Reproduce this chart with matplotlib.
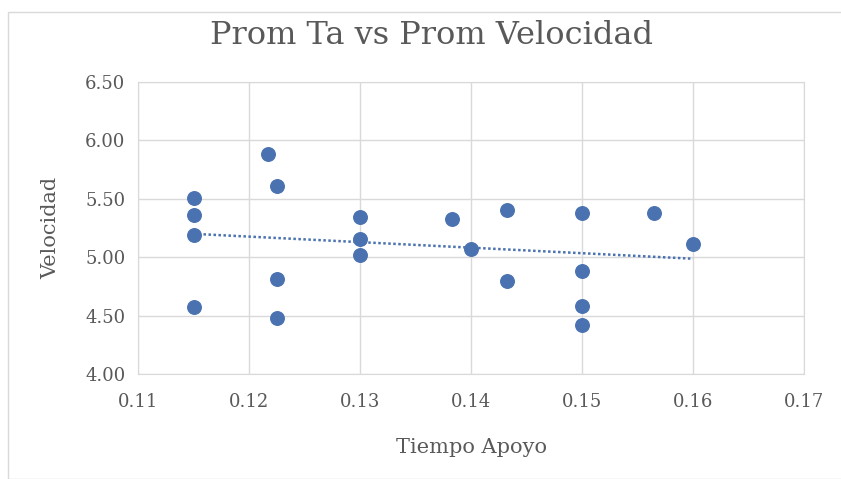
import numpy as np
import matplotlib
matplotlib.use('Agg')
import matplotlib.pyplot as plt
from matplotlib.patches import Rectangle

# Tiempo de apoyo (s) y velocidad promedio
tiempo_apoyo = [0.115, 0.115, 0.115, 0.115,
                0.1217, 0.1225, 0.1225, 0.1225,
                0.13, 0.13, 0.13,
                0.1383, 0.14, 0.1432, 0.1432,
                0.15, 0.15, 0.15, 0.15,
                0.1565, 0.16]
velocidad = [5.51, 5.36, 5.19, 4.57,
             5.88, 5.61, 4.81, 4.48,
             5.34, 5.16, 5.02,
             5.33, 5.07, 5.40, 4.80,
             5.38, 4.88, 4.58, 4.42,
             5.38, 5.11]

x_ticks = [0.11, 0.12, 0.13, 0.14, 0.15, 0.16, 0.17]
y_ticks = [4.00, 4.50, 5.00, 5.50, 6.00, 6.50]

plt.rcParams['font.family'] = ['DejaVu Serif']
txt = '#595959'

fig = plt.figure(figsize=(8.41, 4.79), dpi=100)
fig.patches.append(Rectangle((8 / 841, 0.0), 1.0, 1 - 12 / 479, transform=fig.transFigure,
                             fill=False, edgecolor='#d9d9d9', linewidth=1))
ax = fig.add_axes([138 / 841, 1 - 374 / 479, (804 - 138) / 841, (374 - 82) / 479])

ax.scatter(tiempo_apoyo, velocidad, s=95, color='#4a72b0', zorder=3)

# linea de tendencia lineal
m, b = np.polyfit(tiempo_apoyo, velocidad, 1)
xt = np.array([min(tiempo_apoyo), max(tiempo_apoyo)])
ax.plot(xt, m * xt + b, linestyle=(0, (1, 1)), color='#4a72b0', linewidth=1.8, zorder=2)

ax.set_xlim(0.11, 0.17)
ax.set_ylim(4.0, 6.5)
ax.set_xticks(x_ticks)
ax.set_yticks(y_ticks)
ax.set_xticklabels(['%.2f' % v for v in x_ticks])
ax.set_yticklabels(['%.2f' % v for v in y_ticks])
ax.tick_params(length=0, labelsize=13, colors=txt)
ax.tick_params(axis='x', pad=14)
ax.tick_params(axis='y', pad=9)
ax.grid(True, color='#d9d9d9', linewidth=1)
ax.set_axisbelow(True)
for s in ax.spines.values():
    s.set_color('#d9d9d9')

ax.set_xlabel('Tiempo Apoyo', fontsize=15, color=txt, labelpad=19)
ax.set_ylabel('Velocidad', fontsize=15, color=txt, labelpad=18)
fig.text(432 / 841, 1 - 35 / 479, 'Prom Ta vs Prom Velocidad', fontsize=23,
         color=txt, ha='center', va='center')

fig.savefig('out.png', dpi=100)
